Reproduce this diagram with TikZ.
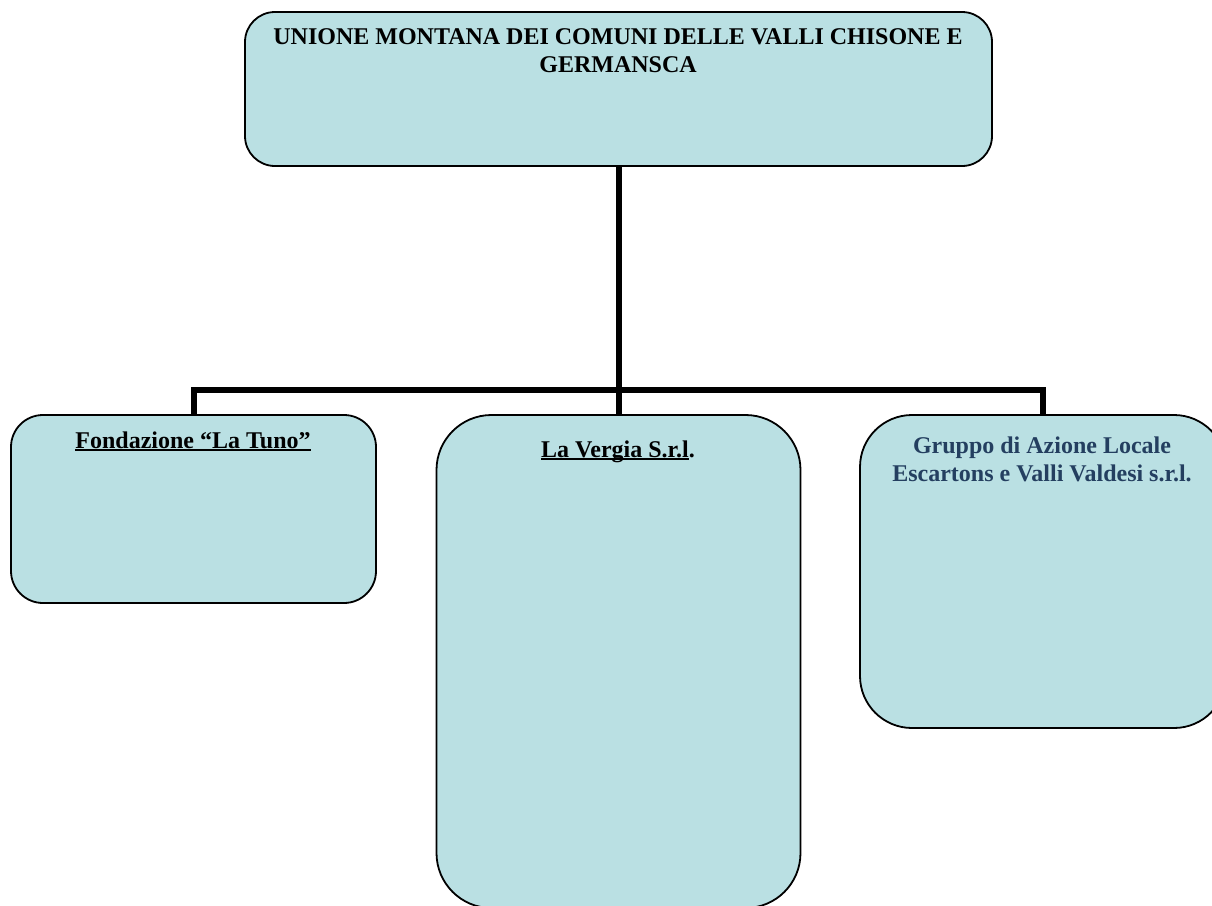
\documentclass[tikz,border=0pt]{standalone}
\usepackage{fontspec}
\setmainfont{Liberation Serif}
\definecolor{boxfill}{RGB}{186,224,227}
\definecolor{galtext}{RGB}{36,63,96}
\newcommand\ulx[1]{\setbox0=\hbox{#1}\rlap{\rule[-3pt]{\wd0}{1.6pt}}\box0}
\tikzset{
  orgbox/.style={draw=black, line width=1.8pt, fill=boxfill, inner sep=0pt},
  conn/.style={draw=black, line width=6pt, line join=miter},
  lbl/.style={font=\fontsize{24}{27.5}\selectfont\bfseries, align=center, inner sep=0pt, anchor=base}
}
\begin{document}
\begin{tikzpicture}[x=1pt,y=-1pt]
\useasboundingbox (0,0) rectangle (1212,905);
\clip (0,0) rectangle (1212,905);
\fill[white] (0,0) rectangle (1212,905);
% boxes
\node[orgbox, rounded corners=30pt, minimum width=747pt, minimum height=154pt] (top) at (618.5,89) {};
\node[orgbox, rounded corners=32pt, minimum width=365pt, minimum height=188pt] (fond) at (193.5,509) {};
\node[orgbox, rounded corners=55pt, minimum width=364pt, minimum height=493pt] (verg) at (618.5,661.5) {};
\node[orgbox, rounded corners=52pt, minimum width=366pt, minimum height=313pt] (gal) at (1043,571.5) {};
% connectors
\coordinate (j) at (top.south |- 0,390);
\draw[conn] (top.south) -- (j);
\draw[conn] (fond.north) |- (j) -| (gal.north);
\draw[conn] (j) -- (verg.north);
% labels (base anchor = baseline of the last line)
\node[lbl] (toplbl) at (618,72) {UNIONE MONTANA DEI COMUNI DELLE VALLI CHISONE E\\GERMANSCA};
\node[lbl] (fondlbl) at (193,448) {\ulx{Fondazione “La Tuno”}};
\node[lbl] (verglbl) at (618,457) {\ulx{La Vergia S.r.l}.};
\node[lbl, text=galtext] (gallbl) at (1042,481) {Gruppo di Azione Locale\\Escartons e Valli Valdesi s.r.l.};
\end{tikzpicture}
\end{document}
